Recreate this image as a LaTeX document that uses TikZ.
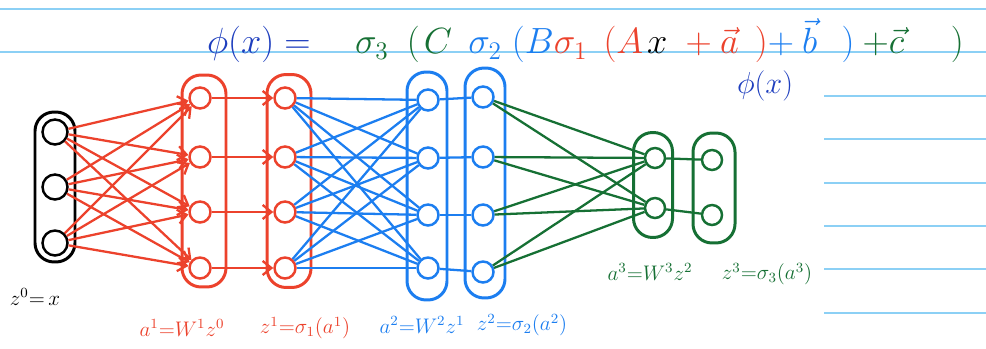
\documentclass[tikz,border=0pt]{standalone}
\usepackage{amsmath}
\usetikzlibrary{positioning,arrows.meta}
\definecolor{penred}{RGB}{236,66,44}
\definecolor{penblue}{RGB}{28,126,240}
\definecolor{pengreen}{RGB}{22,112,52}
\definecolor{pendark}{RGB}{30,62,190}
\definecolor{ruleblue}{RGB}{140,208,245}

\begin{document}
\begin{tikzpicture}[
  x=0.02cm, y=-0.02cm,
  rule/.style={draw=ruleblue, line width=1.1pt},
  layer/.style={rectangle, rounded corners=0.38cm, draw, line width=1.7pt, anchor=center},
  unit/.style={circle, draw, line width=1.4pt, minimum size=0.42cm, inner sep=0pt},
  lbl/.style={font=\fontsize{12}{14}\selectfont, anchor=center, inner sep=1pt},
  rarr/.style={draw=penred, line width=1.3pt, -{Straight Barb[length=5pt,width=8pt]}},
  bwire/.style={draw=penblue, line width=1.3pt},
  gwire/.style={draw=pengreen, line width=1.3pt}
]
\useasboundingbox (0,0) rectangle (986,348);
% Ruled paper
\draw[rule] (0,9) -- (986,9);
\draw[rule] (0,52) -- (986,52);
\draw[rule] (824,96) -- (986,96);
\draw[rule] (824,139) -- (986,139);
\draw[rule] (824,183) -- (986,183);
\draw[rule] (824,226) -- (986,226);
\draw[rule] (824,269) -- (986,269);
\draw[rule] (824,313) -- (986,313);
% Formula
\node[anchor=base west, inner sep=1pt, font=\fontsize{22}{26}\selectfont] (phi) at (205,54)
  {$\color{pendark}\phi(x) = \mkern17mu\color{pengreen}\sigma_3\mkern9mu(\mkern2mu C\mkern8mu\color{penblue}\sigma_2\mkern5mu(B\color{penred}\sigma_1\mkern8mu(A\mkern2mu\color{black}x\mkern5mu \color{penred}+\vec{a}\mkern8mu)\mkern-4mu\color{penblue}+\vec{b}\mkern12mu)\color{pengreen}+\mkern-4mu\vec{c}\mkern23mu)$};
\node[font=\fontsize{16}{18}\selectfont, text=pendark, inner sep=1pt] (phib) at (765,86) {$\phi(x)$};
% Layer outlines
\node[layer, draw=black, minimum width=0.8cm, minimum height=3cm] (L0) at (55,187) {};
\node[layer, draw=penred, minimum width=0.88cm, minimum height=4.24cm] (La1) at (204,181) {};
\node[layer, draw=penred, minimum width=0.88cm, minimum height=4.26cm] (Lz1) at (289,181) {};
\node[layer, draw=penblue, minimum width=0.8cm, minimum height=4.56cm] (La2) at (427,186) {};
\node[layer, draw=penblue, minimum width=0.8cm, minimum height=4.6cm] (Lz2) at (485,183) {};
\node[layer, draw=pengreen, minimum width=0.78cm, minimum height=2.1cm] (La3) at (653,185) {};
\node[layer, draw=pengreen, minimum width=0.84cm, minimum height=2.2cm] (Lz3) at (714,188) {};
% Input z^0
\node[unit, draw=black, minimum size=0.5cm] (z01) at (55,132) {};
\node[unit, draw=black, minimum size=0.5cm] (z02) at (55,187) {};
\node[unit, draw=black, minimum size=0.5cm] (z03) at (55,243) {};
% a^1 and z^1
\node[unit, draw=penred] (a11) at (200,98) {};
\node[unit, draw=penred] (a12) at (200,157) {};
\node[unit, draw=penred] (a13) at (200,212) {};
\node[unit, draw=penred] (a14) at (200,268) {};
\node[unit, draw=penred] (z11) at (285,98) {};
\node[unit, draw=penred] (z12) at (285,157) {};
\node[unit, draw=penred] (z13) at (285,212) {};
\node[unit, draw=penred] (z14) at (285,268) {};
% a^2 and z^2
\node[unit, draw=penblue] (a21) at (428,100) {};
\node[unit, draw=penblue] (a22) at (428,158) {};
\node[unit, draw=penblue] (a23) at (428,215) {};
\node[unit, draw=penblue] (a24) at (428,268) {};
\node[unit, draw=penblue] (z21) at (483,97) {};
\node[unit, draw=penblue] (z22) at (483,157) {};
\node[unit, draw=penblue] (z23) at (483,215) {};
\node[unit, draw=penblue] (z24) at (483,272) {};
% a^3 and z^3
\node[unit, draw=pengreen, minimum size=0.4cm] (a31) at (655,158) {};
\node[unit, draw=pengreen, minimum size=0.4cm] (a32) at (655,208) {};
\node[unit, draw=pengreen, minimum size=0.4cm] (z31) at (712,160) {};
\node[unit, draw=pengreen, minimum size=0.4cm] (z32) at (712,215) {};
% W^1: z^0 -> a^1
\path (z01) edge[rarr] (a11) edge[rarr] (a12) edge[rarr] (a13) edge[rarr] (a14);
\path (z02) edge[rarr] (a11) edge[rarr] (a12) edge[rarr] (a13) edge[rarr] (a14);
\path (z03) edge[rarr] (a11) edge[rarr] (a12) edge[rarr] (a13) edge[rarr] (a14);
% sigma_1
\path (a11) edge[rarr] (z11);
\path (a12) edge[rarr] (z12);
\path (a13) edge[rarr] (z13);
\path (a14) edge[rarr] (z14);
% W^2: z^1 -> a^2
\path (z11) edge[bwire] (a21) edge[bwire] (a22) edge[bwire] (a23) edge[bwire] (a24);
\path (z12) edge[bwire] (a21) edge[bwire] (a22) edge[bwire] (a23) edge[bwire] (a24);
\path (z13) edge[bwire] (a21) edge[bwire] (a22) edge[bwire] (a23) edge[bwire] (a24);
\path (z14) edge[bwire] (a21) edge[bwire] (a22) edge[bwire] (a23) edge[bwire] (a24);
% sigma_2
\path (a21) edge[bwire] (z21);
\path (a22) edge[bwire] (z22);
\path (a23) edge[bwire] (z23);
\path (a24) edge[bwire] (z24);
% W^3: z^2 -> a^3
\path (z21) edge[gwire] (a31) edge[gwire] (a32);
\path (z22) edge[gwire] (a31) edge[gwire] (a32);
\path (z23) edge[gwire] (a31) edge[gwire] (a32);
\path (z24) edge[gwire] (a31) edge[gwire] (a32);
% sigma_3
\path (a31) edge[gwire] (z31);
\path (a32) edge[gwire] (z32);
% Layer labels
\node[lbl] (lz0) at (35,297) {$z^0{=}\,x$};
\node[lbl, text=penred] (la1) at (182,328) {$a^1{=}W^1z^0$};
\node[lbl, text=penred] (lz1) at (305,328) {$z^1{=}\sigma_1(a^1)$};
\node[lbl, text=penblue] (la2) at (422,325) {$a^2{=}W^2z^1$};
\node[lbl, text=penblue] (lz2) at (522,325) {$z^2{=}\sigma_2(a^2)$};
\node[lbl, text=pengreen] (la3) at (650,272) {$a^3{=}W^3z^2$};
\node[lbl, text=pengreen] (lz3) at (767,274) {$z^3{=}\sigma_3(a^3)$};
\end{tikzpicture}
\end{document}
